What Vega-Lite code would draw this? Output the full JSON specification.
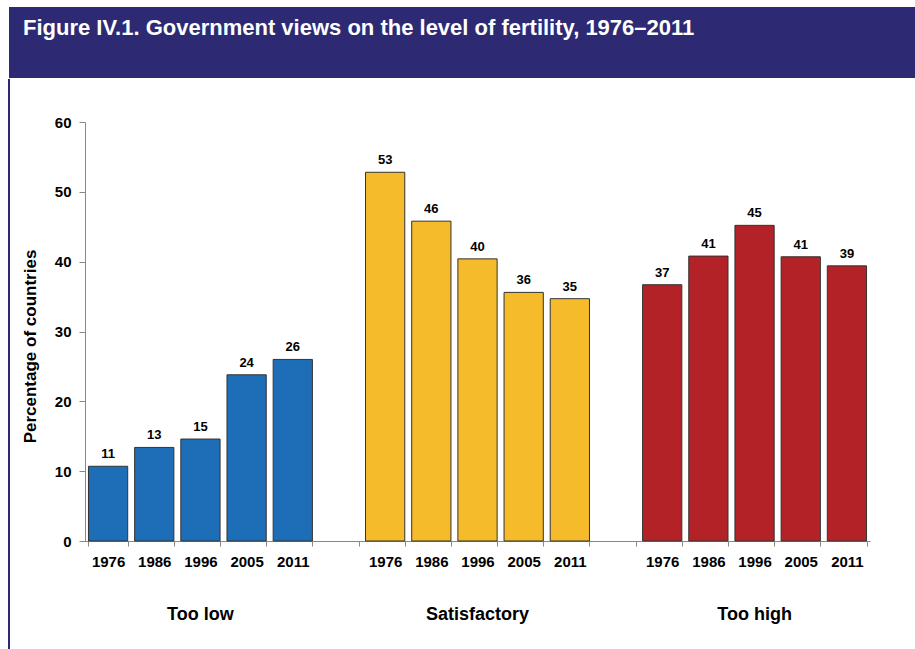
{
  "$schema": "https://vega.github.io/schema/vega-lite/v6.json",
  "padding": {"left": 8, "top": 7, "right": 0, "bottom": 0},
  "background": "white",
  "spacing": 0,
  "config": {"font": "Liberation Sans", "concat": {"spacing": 0}},
  "datasets": {
    "bars": [
      {"group": "Too low", "year": "1976", "key": "Too low|1976", "value": 10.7},
      {"group": "Too low", "year": "1986", "key": "Too low|1986", "value": 13.4},
      {"group": "Too low", "year": "1996", "key": "Too low|1996", "value": 14.6},
      {"group": "Too low", "year": "2005", "key": "Too low|2005", "value": 23.8},
      {"group": "Too low", "year": "2011", "key": "Too low|2011", "value": 26.0},
      {"group": "Satisfactory", "year": "1976", "key": "Satisfactory|1976", "value": 52.8},
      {"group": "Satisfactory", "year": "1986", "key": "Satisfactory|1986", "value": 45.8},
      {"group": "Satisfactory", "year": "1996", "key": "Satisfactory|1996", "value": 40.4},
      {"group": "Satisfactory", "year": "2005", "key": "Satisfactory|2005", "value": 35.6},
      {"group": "Satisfactory", "year": "2011", "key": "Satisfactory|2011", "value": 34.7},
      {"group": "Too high", "year": "1976", "key": "Too high|1976", "value": 36.7},
      {"group": "Too high", "year": "1986", "key": "Too high|1986", "value": 40.8},
      {"group": "Too high", "year": "1996", "key": "Too high|1996", "value": 45.2},
      {"group": "Too high", "year": "2005", "key": "Too high|2005", "value": 40.7},
      {"group": "Too high", "year": "2011", "key": "Too high|2011", "value": 39.4}
    ]
  },
  "vconcat": [
    {
      "width": 907,
      "height": 71,
      "view": {"fill": "#2D2A73", "stroke": null},
      "title": {
        "text": "Figure IV.1. Government views on the level of fertility, 1976–2011",
        "anchor": "start",
        "frame": "group",
        "orient": "bottom",
        "offset": -43,
        "dx": 14,
        "baseline": "alphabetic",
        "color": "white",
        "fontSize": 22,
        "fontWeight": "bold",
        "font": "Liberation Sans"
      },
      "data": {"values": [{"t": ""}]},
      "mark": {"type": "rect", "color": "#2D2A73"},
      "encoding": {}
    },
    {
      "width": 907,
      "height": 571,
      "view": {"fill": null, "stroke": "#2D2A73", "strokeWidth": 2, "strokeDash": [0, 2385, 571, 2]},
      "data": {"name": "bars"},
      "resolve": {"axis": {"x": "independent"}},
      "layer": [
        {
          "mark": {"type": "bar", "stroke": "#333333", "strokeWidth": 1},
          "encoding": {
            "x": {
              "field": "key",
              "type": "nominal",
              "sort": null,
              "scale": {
                "domain": ["Too low|1976", "Too low|1986", "Too low|1996", "Too low|2005", "Too low|2011", "gap1|",
                  "Satisfactory|1976", "Satisfactory|1986", "Satisfactory|1996", "Satisfactory|2005", "Satisfactory|2011", "gap2|",
                  "Too high|1976", "Too high|1986", "Too high|1996", "Too high|2005", "Too high|2011"],
                "range": [76, 861],
                "paddingInner": 0.15,
                "paddingOuter": 0.075
              },
              "axis": {
                "orient": "bottom",
                "offset": -109,
                "title": null,
                "labelExpr": "split(datum.value, '|')[1]",
                "labelAngle": 0,
                "labelFontSize": 15,
                "labelFontWeight": "bold",
                "labelColor": "#000000",
                "labelPadding": 8,
                "domainColor": "#888888",
                "tickColor": "#888888",
                "tickSize": 5,
                "tickBand": "extent",
                "grid": false
              }
            },
            "y": {
              "field": "value",
              "type": "quantitative",
              "scale": {"domain": [0, 60], "range": [462, 43], "nice": false, "zero": true},
              "axis": {
                "orient": "left",
                "offset": -76,
                "values": [0, 10, 20, 30, 40, 50, 60],
                "title": "Percentage of countries",
                "titleFontSize": 17,
                "titleFontWeight": "bold",
                "titleColor": "#000000",
                "titlePadding": 15,
                "titleY": 267,
                "labelFontSize": 15,
                "labelFontWeight": "bold",
                "labelColor": "#000000",
                "labelPadding": 8,
                "tickSize": 6,
                "tickColor": "#888888",
                "domainColor": "#888888",
                "grid": false
              }
            },
            "color": {
              "field": "group",
              "type": "nominal",
              "scale": {"domain": ["Too low", "Satisfactory", "Too high"], "range": ["#1D6EB7", "#F5BB2A", "#B32227"]},
              "legend": null
            }
          }
        },
        {
          "mark": {"type": "text", "baseline": "bottom", "dy": -5, "fontSize": 13, "fontWeight": "bold", "color": "#000000"},
          "encoding": {
            "x": {"field": "key", "type": "nominal", "sort": null, "axis": null},
            "y": {"field": "value", "type": "quantitative"},
            "text": {"field": "value", "type": "quantitative", "format": ".0f"}
          }
        },
        {
          "mark": {"type": "tick", "opacity": 0},
          "encoding": {
            "x": {
              "field": "key",
              "type": "nominal",
              "sort": null,
              "axis": {
                "orient": "bottom",
                "offset": -109,
                "title": null,
                "domain": false,
                "ticks": false,
                "labelAngle": 0,
                "labelExpr": "indexof(datum.value, '1996') >= 0 ? split(datum.value, '|')[0] : ''",
                "labelFontSize": 18,
                "labelFontWeight": "bold",
                "labelColor": "#000000",
                "labelPadding": 64,
                "grid": false
              }
            }
          }
        }
      ]
    }
  ]
}
